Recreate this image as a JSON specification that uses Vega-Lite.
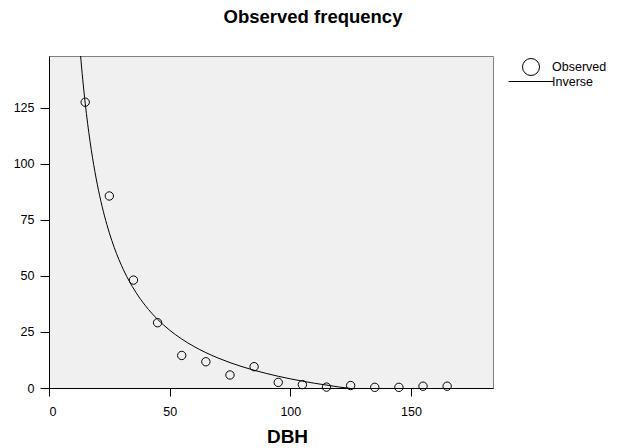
{
  "$schema": "https://vega.github.io/schema/vega-lite/v6.json",
  "width": 444,
  "height": 332,
  "autosize": {"type": "none"},
  "padding": {"left": 49, "top": 56, "right": 126, "bottom": 60},
  "background": "white",
  "title": {"text": "Observed frequency", "fontSize": 18.5, "font": "Liberation Sans", "fontWeight": "bold", "offset": 30, "color": "black", "anchor": "middle", "dx": 42},
  "config": {"view": {"fill": "#f0f0f0", "stroke": "#808080"}, "font": "Liberation Sans"},
  "datasets": {
    "obs": [
      {"dbh": 15, "freq": 127.4, "series": "Observed"},
      {"dbh": 25, "freq": 85.6, "series": "Observed"},
      {"dbh": 35, "freq": 48.1, "series": "Observed"},
      {"dbh": 45, "freq": 29.1, "series": "Observed"},
      {"dbh": 55, "freq": 14.5, "series": "Observed"},
      {"dbh": 65, "freq": 11.7, "series": "Observed"},
      {"dbh": 75, "freq": 5.8, "series": "Observed"},
      {"dbh": 85, "freq": 9.5, "series": "Observed"},
      {"dbh": 95, "freq": 2.5, "series": "Observed"},
      {"dbh": 105, "freq": 1.5, "series": "Observed"},
      {"dbh": 115, "freq": 0.4, "series": "Observed"},
      {"dbh": 125, "freq": 1.1, "series": "Observed"},
      {"dbh": 135, "freq": 0.3, "series": "Observed"},
      {"dbh": 145, "freq": 0.3, "series": "Observed"},
      {"dbh": 155, "freq": 0.8, "series": "Observed"},
      {"dbh": 165, "freq": 0.8, "series": "Observed"}
    ],
    "curve": [
      {"dbh": 13, "freq": 149.25, "series": "Inverse"},
      {"dbh": 13.5, "freq": 143.07, "series": "Inverse"},
      {"dbh": 14, "freq": 137.33, "series": "Inverse"},
      {"dbh": 14.5, "freq": 131.99, "series": "Inverse"},
      {"dbh": 15, "freq": 127.0, "series": "Inverse"},
      {"dbh": 16, "freq": 117.96, "series": "Inverse"},
      {"dbh": 17, "freq": 109.99, "series": "Inverse"},
      {"dbh": 18, "freq": 102.9, "series": "Inverse"},
      {"dbh": 19, "freq": 96.56, "series": "Inverse"},
      {"dbh": 20, "freq": 90.85, "series": "Inverse"},
      {"dbh": 22, "freq": 80.99, "series": "Inverse"},
      {"dbh": 24, "freq": 72.78, "series": "Inverse"},
      {"dbh": 26, "freq": 65.82, "series": "Inverse"},
      {"dbh": 28, "freq": 59.86, "series": "Inverse"},
      {"dbh": 30, "freq": 54.7, "series": "Inverse"},
      {"dbh": 33, "freq": 48.13, "series": "Inverse"},
      {"dbh": 36, "freq": 42.65, "series": "Inverse"},
      {"dbh": 40, "freq": 36.63, "series": "Inverse"},
      {"dbh": 45, "freq": 30.6, "series": "Inverse"},
      {"dbh": 50, "freq": 25.78, "series": "Inverse"},
      {"dbh": 55, "freq": 21.84, "series": "Inverse"},
      {"dbh": 60, "freq": 18.55, "series": "Inverse"},
      {"dbh": 65, "freq": 15.77, "series": "Inverse"},
      {"dbh": 70, "freq": 13.39, "series": "Inverse"},
      {"dbh": 80, "freq": 9.51, "series": "Inverse"},
      {"dbh": 90, "freq": 6.5, "series": "Inverse"},
      {"dbh": 100, "freq": 4.09, "series": "Inverse"},
      {"dbh": 110, "freq": 2.12, "series": "Inverse"},
      {"dbh": 120, "freq": 0.48, "series": "Inverse"},
      {"dbh": 130, "freq": -0.92, "series": "Inverse"},
      {"dbh": 140, "freq": -2.11, "series": "Inverse"},
      {"dbh": 150, "freq": -3.14, "series": "Inverse"},
      {"dbh": 165, "freq": -4.45, "series": "Inverse"},
      {"dbh": 184, "freq": -5.81, "series": "Inverse"}
    ]
  },
  "encoding": {
    "x": {
      "field": "dbh", "type": "quantitative",
      "scale": {"domain": [0, 184], "nice": false, "zero": false},
      "axis": {
        "title": "DBH", "values": [0, 50, 100, 150], "format": "d", "grid": false,
        "titleFontSize": 19, "titleFontWeight": "bold", "titleColor": "black", "titleFont": "Liberation Sans", "titleX": 238,
        "labelFontSize": 12.5, "labelColor": "black", "labelFont": "Liberation Sans",
        "tickSize": 8, "tickColor": "black", "domainColor": "black", "labelPadding": 9, "titlePadding": 10
      }
    },
    "y": {
      "field": "freq", "type": "quantitative",
      "scale": {"domain": [0, 148], "nice": false, "zero": false},
      "axis": {
        "title": null, "values": [0, 25, 50, 75, 100, 125], "format": "d", "grid": false,
        "labelFontSize": 12.5, "labelColor": "black", "labelFont": "Liberation Sans",
        "tickSize": 9, "tickColor": "black", "domainColor": "black", "labelPadding": 6
      }
    }
  },
  "layer": [
    {
      "data": {"name": "curve"},
      "mark": {"type": "line", "strokeWidth": 1, "clip": true, "interpolate": "monotone"},
      "encoding": {
        "color": {
          "field": "series", "type": "nominal",
          "scale": {"domain": ["Inverse"], "range": ["black"]},
          "legend": {
            "title": null, "orient": "none", "legendX": 459, "legendY": 2.5, "padding": 0,
            "symbolType": "stroke", "symbolSize": 2025, "symbolStrokeWidth": 1,
            "labelFontSize": 12.5, "labelColor": "black", "labelFont": "Liberation Sans", "labelOffset": -2
          }
        }
      }
    },
    {
      "data": {"name": "obs"},
      "mark": {"type": "point", "filled": false, "color": "black", "size": 70, "strokeWidth": 1, "opacity": 1},
      "encoding": {
        "shape": {
          "field": "series", "type": "nominal",
          "scale": {"domain": ["Observed"], "range": ["circle"]},
          "legend": {
            "title": null, "orient": "none", "legendX": 473, "legendY": 2, "padding": 0,
            "symbolSize": 289, "symbolStrokeWidth": 1, "symbolStrokeColor": "black", "symbolFillColor": "transparent",
            "labelFontSize": 12.5, "labelColor": "black", "labelFont": "Liberation Sans", "labelOffset": 12
          }
        }
      }
    }
  ]
}
